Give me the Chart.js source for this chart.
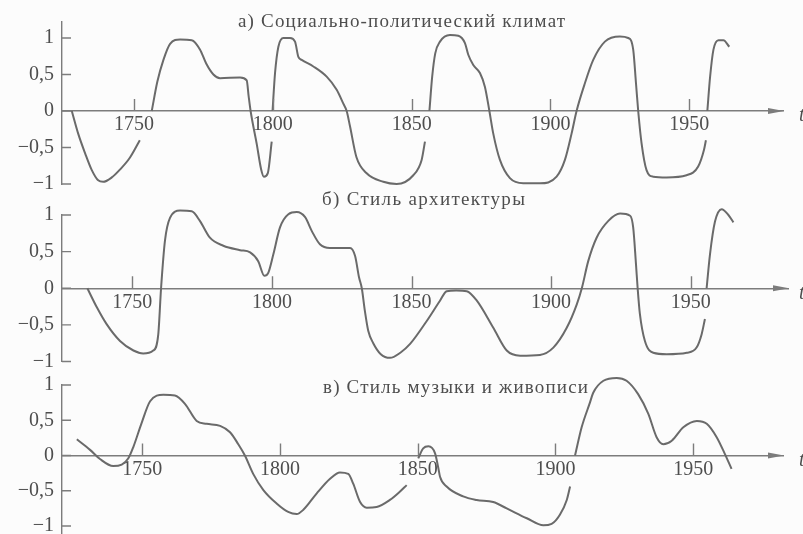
<!DOCTYPE html>
<html><head><meta charset="utf-8">
<script src="https://cdn.jsdelivr.net/npm/chart.js@4/dist/chart.umd.min.js"></script>
<style>
html,body{margin:0;padding:0;background:#fcfcfc;}
#wrap{position:relative;width:803px;height:534px;overflow:hidden;background:#fcfcfc;}
#wrap canvas{position:absolute;left:0;top:0;}
</style></head><body>
<div id="wrap">
<canvas id="ca" width="803" height="534"></canvas>
<canvas id="cb" width="803" height="534"></canvas>
<canvas id="cc" width="803" height="534"></canvas>
</div>
<script>
// ---------- data ----------
const xTickYears = [1750, 1800, 1850, 1900, 1950];
const yTickValues = [-1, -0.5, 0, 0.5, 1];
const yTickLabels = ['\u22121', '\u22120,5', '0', '0,5', '1'];
const titles = ['а) Социально-политический климат', 'б) Стиль архитектуры', 'в) Стиль музыки и живописи'];
const axisName = 't';

// а) Социально-политический климат (null = break in the curve)
const yearsA = [1727.6,1729.9,1732.4,1734.8,1737.1,1738.9,1742,1745,1748.5,1752.1,1754,
  1756.4,1758.4,1760.6,1763,1766.6,1770.8,1773.8,1776,1778.6,1781,1788.2,1790.6,1791.3,1792,1794.2,1795.8,1796.8,1798.2,1799.6,1799.75,
  1799.9,1800.8,1802,1803.8,1806.2,1808,1809.2,1810.4,1814.6,1819.4,1823,1825.4,1826.6,1827.8,1830.1,1833.7,1839.8,1844.6,1850.6,1853.6,1854.8,1855.5,
  1856.4,1857.4,1858.5,1860.2,1863.8,1866.8,1869.2,1870.4,1872.2,1874.6,1876.4,1878,1879.4,1881.8,1885.4,1890.2,1896.2,1902.2,1905.2,1907.6,1909.4,1912.4,1915.4,1919.6,1925,1928,1929.8,1930.8,1931.6,1932.8,1934.6,1937,1941.8,1949,1953.2,1955.3,1956,1956.2,
  1956.5,1957.5,1958.7,1960.5,1962.3,1964.4];
const valuesA = [0,-0.31,-0.58,-0.81,-0.95,-0.97,-0.91,-0.80,-0.64,-0.40,null,
  0,0.40,0.70,0.92,0.98,0.97,0.84,0.65,0.50,0.45,0.46,0.42,0.2,0,-0.45,-0.8,-0.90,-0.85,-0.42,null,
  0,0.52,0.88,1.0,1.0,0.95,0.74,0.70,0.61,0.47,0.29,0.10,0,-0.21,-0.63,-0.85,-0.97,-1.0,-0.88,-0.67,-0.42,null,
  0,0.47,0.79,0.95,1.04,1.03,0.93,0.77,0.63,0.52,0.33,0,-0.31,-0.67,-0.92,-0.99,-0.99,-0.90,-0.67,-0.31,0,0.38,0.70,0.95,1.02,1.0,0.84,0.38,0,-0.44,-0.81,-0.90,-0.91,-0.88,-0.76,-0.53,-0.40,null,
  0,0.47,0.84,0.97,0.97,0.88];

// б) Стиль архитектуры
const yearsB = [1733.9,1737.3,1740.8,1745.6,1750.4,1753.9,1757.5,1759.3,1760.3,1761.7,1763.5,1767.1,1771.3,1774.2,1777.8,1782.6,1788.6,1792.2,1795.1,1797.3,1798.7,
  1800.5,1802.9,1805.9,1808.9,1811.9,1814.3,1817.2,1820.8,1828,1829.8,1831.2,1832.2,1833.3,1834.5,1836.3,1839,1842.3,1846,1849.5,1855.4,1860.2,1862.6,1866,1869.8,
  1873.4,1879.3,1884.1,1888.9,1896,1900.8,1905.6,1909.2,1911,1913.3,1916.3,1920.5,1924.7,1928.3,1929.4,1930.4,1931,1931.8,1933.6,1936.6,1941.4,1948.6,1952.1,1953.9,1955.1,1955.4,
  1955.7,1956.9,1958.7,1961.1,1963.5,1965.3];
const valuesB = [0,-0.26,-0.49,-0.72,-0.85,-0.89,-0.85,-0.63,0,0.65,0.96,1.06,1.05,0.92,0.69,0.58,0.52,0.49,0.37,0.17,0.21,
  0.46,0.83,1.01,1.04,0.97,0.78,0.60,0.55,0.55,0.44,0.15,0,-0.31,-0.58,-0.75,-0.90,-0.95,-0.88,-0.76,-0.45,-0.17,-0.04,-0.03,-0.04,
  -0.17,-0.54,-0.85,-0.92,-0.91,-0.81,-0.54,-0.22,0,0.37,0.69,0.92,1.02,0.99,0.83,0.33,0,-0.35,-0.72,-0.88,-0.90,-0.88,-0.81,-0.63,-0.42,null,
  0,0.46,0.91,1.08,1.0,0.9];

// в) Стиль музыки и живописи
const yearsC = [1726.3,1731.1,1734.7,1739.5,1742.6,1745,1746.8,1749.8,1752.9,1757.7,1761.9,1765.6,1769.8,1773.4,1778.3,1781.9,1784.9,1787.3,1790.3,1794,1798.8,1803,1806.1,1808.5,
  1813.3,1818.2,1821.8,1824.8,1826.6,1829.1,1831.5,1835.1,1839.9,1843.6,1846,1848,
  1850.2,1852,1853.9,1856.3,1857.5,1858.1,1860.5,1866.5,1871.4,1877.4,1882.3,1889.6,1895.6,1898.6,1901.6,1904.1,1905.3,1906.2,
  1907.1,1909.5,1912.5,1913.7,1917.4,1922.2,1925.8,1930,1933.7,1936.7,1939.1,1942.2,1946.4,1951.3,1954.9,1958.5,1961.5,1963.9];
const valuesC = [0.23,0.08,-0.05,-0.15,-0.13,-0.04,0.12,0.46,0.77,0.86,0.85,0.73,0.49,0.45,0.42,0.33,0.16,0,-0.26,-0.49,-0.68,-0.80,-0.83,-0.77,
  -0.54,-0.33,-0.24,-0.26,-0.40,-0.66,-0.74,-0.73,-0.63,-0.51,-0.42,null,
  -0.04,0.10,0.13,0.03,-0.18,-0.30,-0.44,-0.58,-0.63,-0.66,-0.75,-0.89,-0.99,-0.97,-0.84,-0.63,-0.44,null,
  0,0.40,0.75,0.89,1.06,1.10,1.06,0.87,0.59,0.26,0.16,0.21,0.40,0.49,0.45,0.26,0.02,-0.19];

// ---------- style ----------
const INK = '#6a6a6a';
const AXIS = '#7c7c7c';
const TEXT = '#4e4e4e';
const FONT = '"Liberation Serif", "DejaVu Serif", serif';

const decor = {
  id: 'decor',
  afterDraw(chart, args, o) {
    const {ctx, chartArea: ca, scales: {x, y}} = chart;
    const y0 = y.getPixelForValue(0);
    ctx.save();
    ctx.strokeStyle = AXIS; ctx.lineWidth = 1.4;
    ctx.beginPath();
    xTickYears.forEach(v => { const px = Math.round(x.getPixelForValue(v)) + 0.5; ctx.moveTo(px, y0); ctx.lineTo(px, y0 - 12); });
    yTickValues.forEach(v => { const py = y.getPixelForValue(v); ctx.moveTo(ca.left, py); ctx.lineTo(ca.left + 9, py); });
    ctx.stroke();
    ctx.fillStyle = AXIS;
    ctx.beginPath();
    ctx.moveTo(ca.right + 1, y0); ctx.lineTo(ca.right - 15, y0 - 3); ctx.lineTo(ca.right - 15, y0 + 3);
    ctx.closePath(); ctx.fill();
    // panel title
    ctx.fillStyle = TEXT;
    ctx.font = '19px ' + FONT;
    ctx.textBaseline = 'alphabetic'; ctx.textAlign = 'left';
    const w = ctx.measureText(o.text).width;
    const n = [...o.text].length;
    ctx.letterSpacing = ((o.x2 - o.x1 - w) / (n - 1)).toFixed(2) + 'px';
    ctx.fillText(o.text, o.x1, o.y);
    ctx.letterSpacing = '0px';
    // axis name
    ctx.font = 'italic 20px ' + FONT;
    ctx.textBaseline = 'middle';
    ctx.fillText(axisName, 799, y0 + 5);
    ctx.restore();
  }
};

function makePanel(id, years, values, cfg) {
  const data = years.map((yr, i) => ({x: yr, y: values[i]}));
  return new Chart(document.getElementById(id), {
    type: 'line',
    data: { datasets: [{ data, borderColor: INK, borderWidth: 2, pointRadius: 0,
      cubicInterpolationMode: 'monotone', spanGaps: false, clip: false, fill: false }] },
    plugins: [decor],
    options: {
      responsive: false, animation: false, devicePixelRatio: 1,
      layout: { padding: cfg.pad },
      plugins: { legend: {display: false}, tooltip: {enabled: false}, title: {display: false},
        decor: cfg.title },
      scales: {
        x: {
          type: 'linear', axis: 'x', position: {y: 0}, min: cfg.xMin, max: cfg.xMax,
          afterBuildTicks: s => { s.ticks = xTickYears.map(v => ({value: v})); },
          afterFit: s => { s.paddingLeft = 0; s.paddingRight = 0; },
          ticks: { callback: v => String(v), color: TEXT, font: {family: FONT, size: 20}, padding: 2, maxRotation: 0, autoSkip: false },
          grid: { display: true, drawOnChartArea: false, drawTicks: false },
          border: { display: true, color: AXIS, width: 1.4 }
        },
        y: {
          type: 'linear', position: 'left', min: cfg.yMin, max: cfg.yMax,
          afterBuildTicks: s => { s.ticks = yTickValues.map(v => ({value: v})); },
          afterFit: s => { s.width = 62; s.paddingTop = 0; s.paddingBottom = 0; },
          ticks: { callback: v => yTickLabels[yTickValues.indexOf(v)], color: TEXT, font: {family: FONT, size: 20}, padding: 8 },
          grid: { display: true, drawOnChartArea: false, drawTicks: false },
          border: { display: true, color: AXIS, width: 1.4 }
        }
      }
    }
  });
}

makePanel('ca', yearsA, valuesA, {
  pad: {left: 0, right: 20, top: 22, bottom: 534 - 184},
  xMin: 1724.07, xMax: 1983.75, yMin: -1, yMax: 1.219,
  title: {text: titles[0], x1: 238, x2: 565, y: 27}
});
makePanel('cb', yearsB, valuesB, {
  pad: {left: 0, right: 15, top: 215, bottom: 534 - 361.5},
  xMin: 1724.82, xMax: 1984.85, yMin: -1, yMax: 1,
  title: {text: titles[1], x1: 322, x2: 525, y: 205}
});
makePanel('cc', yearsC, valuesC, {
  pad: {left: 0, right: 20, top: 385, bottom: 0},
  xMin: 1720.92, xMax: 1982.57, yMin: -1.113, yMax: 1,
  title: {text: titles[2], x1: 323, x2: 588, y: 393}
});
</script>
</body></html>
